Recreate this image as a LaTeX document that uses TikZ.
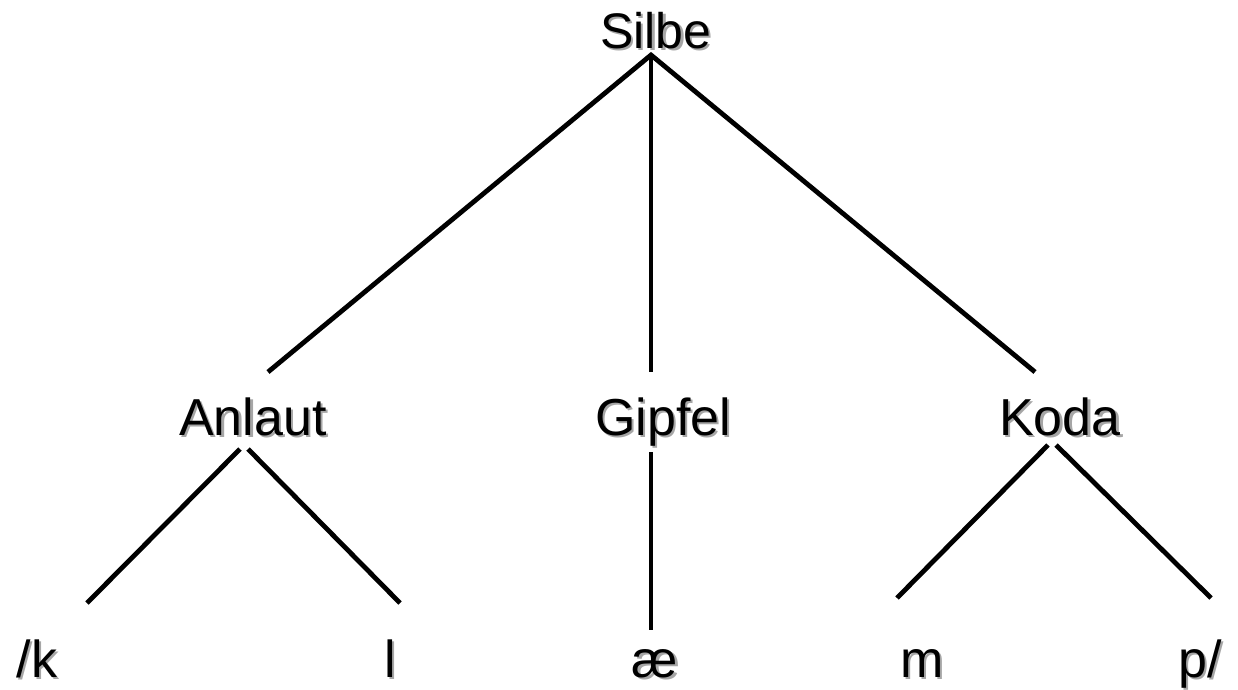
\documentclass[tikz,border=0pt]{standalone}
\usepackage{fontspec}
\setmainfont{Liberation Sans}
\newcommand{\shd}[1]{\makebox[0pt][l]{\hspace{2.2pt}\raisebox{-2.2pt}{\color{black!35}#1}}#1}
\begin{document}
\begin{tikzpicture}[x=1pt,y=-1pt,
  lbl/.style={inner sep=0pt,anchor=base,font=\fontsize{52}{52}\selectfont},
  top/.style={inner sep=0pt,anchor=base,font=\fontsize{50}{50}\selectfont},
  edge/.style={line width=4.8pt,line cap=butt}]
\useasboundingbox (0,0) rectangle (1238,689);
\node[top] (silbe) at (656,48) {\shd{Silbe}};
\node[lbl] (anlaut) at (253,435) {\shd{Anlaut}};
\node[lbl] (gipfel) at (663,435) {\shd{Gipfel}};
\node[lbl] (koda) at (1060,435) {\shd{Koda}};
\node[lbl] (k) at (37,677) {\shd{/k}};
\node[lbl] (l) at (390,677) {\shd{l}};
\node[lbl] (ae) at (655,677) {\shd{æ}};
\node[lbl] (m) at (922,677) {\shd{m}};
\node[lbl] (p) at (1200,677) {\shd{p/}};
\coordinate (s0) at (651,55);
\coordinate (a0) at (268,372);
\coordinate (g0) at (651,372);
\coordinate (k0) at (1035,372);
\coordinate (al) at (240,449);
\coordinate (ar) at (248,449);
\coordinate (kb) at (87,603);
\coordinate (lb) at (400,603);
\coordinate (gt) at (651,452);
\coordinate (aeb) at (651,630);
\coordinate (kl) at (1048,445);
\coordinate (kr) at (1056,445);
\coordinate (mb) at (897,598);
\coordinate (pb) at (1211,598);
\draw[edge] (a0) -- (s0) -- (k0);
\draw[edge] (s0) -- (g0);
\draw[edge] (al) -- (kb);
\draw[edge] (ar) -- (lb);
\draw[edge] (gt) -- (aeb);
\draw[edge] (kl) -- (mb);
\draw[edge] (kr) -- (pb);
\end{tikzpicture}
\end{document}
